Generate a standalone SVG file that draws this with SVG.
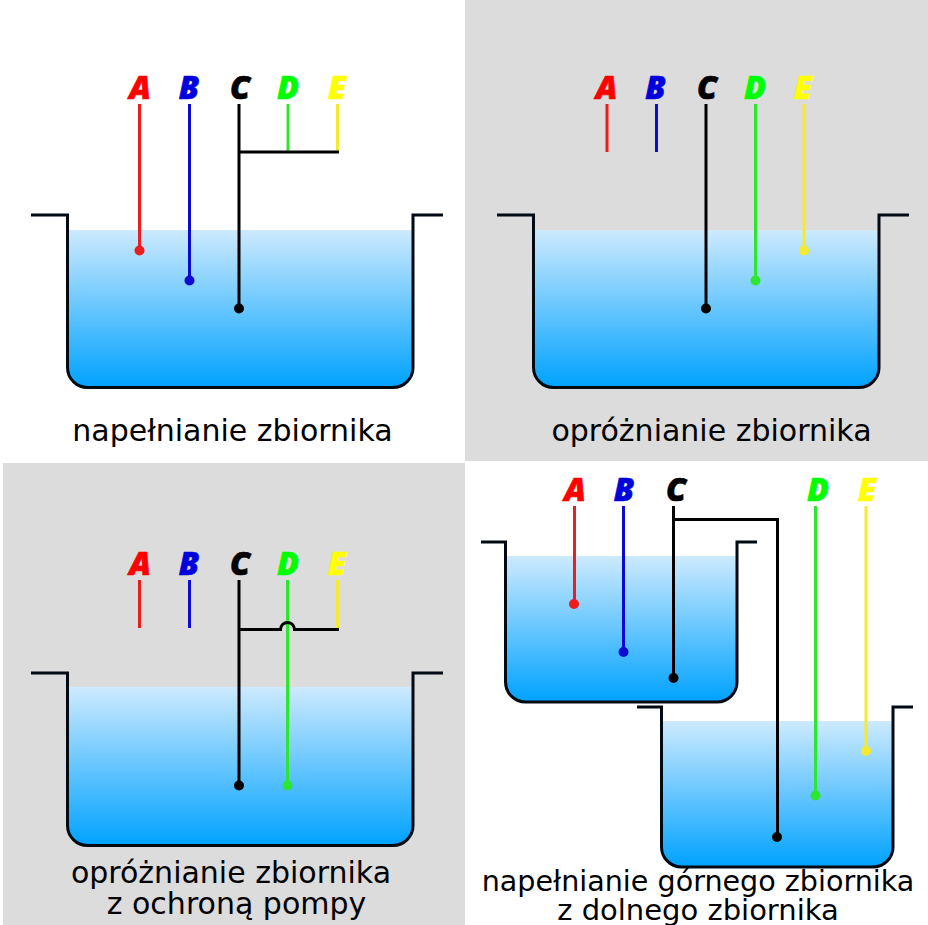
<svg xmlns="http://www.w3.org/2000/svg" width="928" height="925" viewBox="0 0 928 925">
<style>
.t{font-family:"DejaVu Sans",sans-serif;font-size:30px;fill:#000;text-anchor:middle}
.t2{font-family:"DejaVu Sans",sans-serif;font-size:28.600px;fill:#000;text-anchor:middle}
.l{font-family:"Open Sans",sans-serif;font-size:32px;font-weight:800;font-style:italic;text-anchor:middle;stroke-width:.7}
.la{fill:#f00;stroke:#f00}.lb{fill:#00d;stroke:#00d}.lc{fill:#000;stroke:#000}.ld{fill:#0f0;stroke:#0f0}.le{fill:#ff0;stroke:#ff0}
.w{fill:none;stroke-width:3}
.a{stroke:#ee1c1c}.b{stroke:#0a0ad2}.c{stroke:#000}.d{stroke:#2ee62e}.e{stroke:#f5ea30}
.w2{fill:none;stroke:#000;stroke-width:3}
.tank{fill:none;stroke:#020a14;stroke-width:3}
</style>
<defs>
<linearGradient id="g" x1="0" y1="0" x2="0" y2="1"><stop offset="0" stop-color="#cdeafe"/><stop offset="1" stop-color="#00a2ff"/></linearGradient>
</defs>
<rect width="928" height="925" fill="#fff"/>
<rect x="465" y="0" width="463" height="461" fill="#dcdcdc"/>
<rect x="3" y="463" width="462" height="462" fill="#dcdcdc"/>
<g id="panel-1">
<path d="M67.500 230H413V367.500A20 20 0 0 1 393 387.500H87.500A20 20 0 0 1 67.500 367.500Z" fill="url(#g)"/>
<path class="tank" d="M31 215H67.500V367.500A20 20 0 0 0 87.500 387.500H393A20 20 0 0 0 413 367.500V215H443"/>
<text class="l la" x="140" y="99">A</text><text class="l lb" x="189" y="99">B</text><text class="l lc" x="240" y="99">C</text><text class="l ld" x="288" y="99">D</text><text class="l le" x="337" y="99">E</text>
<path class="w e" d="M337.500 104V152"/><path class="w d" d="M288 104V152"/>
<path class="w2" d="M239 152H339"/>
<path class="w a" d="M139.500 104V250"/><circle cx="139.500" cy="250.500" r="5" fill="#ee1c1c"/>
<path class="w b" d="M189.500 104V280"/><circle cx="189.500" cy="280.500" r="5" fill="#0a0ad2"/>
<path class="w c" d="M239 104V308" stroke-width="3.500"/><circle cx="239" cy="308.500" r="5" fill="#000"/>
<text class="t" x="232.500" y="441">napełnianie zbiornika</text>
</g>
<g id="panel-2">
<path d="M533.500 230H879V367.500A20 20 0 0 1 859 387.500H553.500A20 20 0 0 1 533.500 367.500Z" fill="url(#g)"/>
<path class="tank" d="M497 215H533.500V367.500A20 20 0 0 0 553.500 387.500H859A20 20 0 0 0 879 367.500V215H909"/>
<text class="l la" x="606.500" y="99">A</text><text class="l lb" x="655.500" y="99">B</text><text class="l lc" x="707" y="99">C</text><text class="l ld" x="755" y="99">D</text><text class="l le" x="803" y="99">E</text>
<path class="w a" d="M607 104V152"/><path class="w b" d="M656.500 104V152"/>
<path class="w c" d="M706 104V308"/><circle cx="706" cy="308.500" r="5" fill="#000"/>
<path class="w d" d="M755.500 104V280"/><circle cx="755.500" cy="280.500" r="5" fill="#2ee62e"/>
<path class="w e" d="M804 104V250"/><circle cx="804" cy="250.500" r="5" fill="#f5ea30"/>
<text class="t" x="711.500" y="441">opróżnianie zbiornika</text>
</g>
<g id="panel-3">
<path d="M67.500 687H413V825.500A20 20 0 0 1 393 845.500H87.500A20 20 0 0 1 67.500 825.500Z" fill="url(#g)"/>
<path class="tank" d="M31 673H67.500V825.500A20 20 0 0 0 87.500 845.500H393A20 20 0 0 0 413 825.500V673H443"/>
<text class="l la" x="140" y="575">A</text><text class="l lb" x="189" y="575">B</text><text class="l lc" x="240" y="575">C</text><text class="l ld" x="288" y="575">D</text><text class="l le" x="337" y="575">E</text>
<path class="w a" d="M139.500 580V628"/><path class="w b" d="M189.500 580V628"/>
<path class="w e" d="M337.500 580V629"/>
<path class="w d" d="M287.500 580V785"/><circle cx="287.500" cy="785.500" r="5" fill="#2ee62e"/>
<path class="w2" d="M239 629.500H280.500A7 7 0 0 1 294.500 629.500H339"/>
<path class="w c" d="M239 580V785"/><circle cx="239" cy="785.500" r="5" fill="#000"/>
<text class="t" x="231" y="883">opróżnianie zbiornika</text>
<text class="t" x="236.500" y="914">z ochroną pompy</text>
</g>
<g id="panel-4">
<path d="M505.500 556H737V682A20 20 0 0 1 717 702H525.500A20 20 0 0 1 505.500 682Z" fill="url(#g)"/>
<path class="tank" d="M481 542H505.500V682A20 20 0 0 0 525.500 702H717A20 20 0 0 0 737 682V542H757"/>
<path d="M661.500 721H893V847A20 20 0 0 1 873 867H681.500A20 20 0 0 1 661.500 847Z" fill="url(#g)"/>
<path class="tank" d="M637 707H661.500V847A20 20 0 0 0 681.500 867H873A20 20 0 0 0 893 847V707H913"/>
<text class="l la" x="575" y="501">A</text><text class="l lb" x="624" y="501">B</text><text class="l lc" x="676" y="501">C</text><text class="l ld" x="818" y="501">D</text><text class="l le" x="867" y="501">E</text>
<path class="w a" d="M574.500 506V604"/><circle cx="574" cy="604" r="5" fill="#ee1c1c"/>
<path class="w b" d="M623.500 506V652"/><circle cx="623.500" cy="652" r="5" fill="#0a0ad2"/>
<path class="w c" d="M673.500 506V678"/><circle cx="673.500" cy="678" r="5" fill="#000"/>
<path class="w2" d="M673 519.500H777.500V837"/><circle cx="777" cy="837" r="5" fill="#000"/>
<path class="w d" d="M815.500 506V795"/><circle cx="815.500" cy="795.500" r="5" fill="#2ee62e"/>
<path class="w e" d="M866 506V751"/><circle cx="866" cy="751" r="5" fill="#f5ea30"/>
<text class="t2" x="698" y="891">napełnianie górnego zbiornika</text>
<text class="t2" x="698" y="920" style="font-size:29px">z dolnego zbiornika</text>
</g>
</svg>
